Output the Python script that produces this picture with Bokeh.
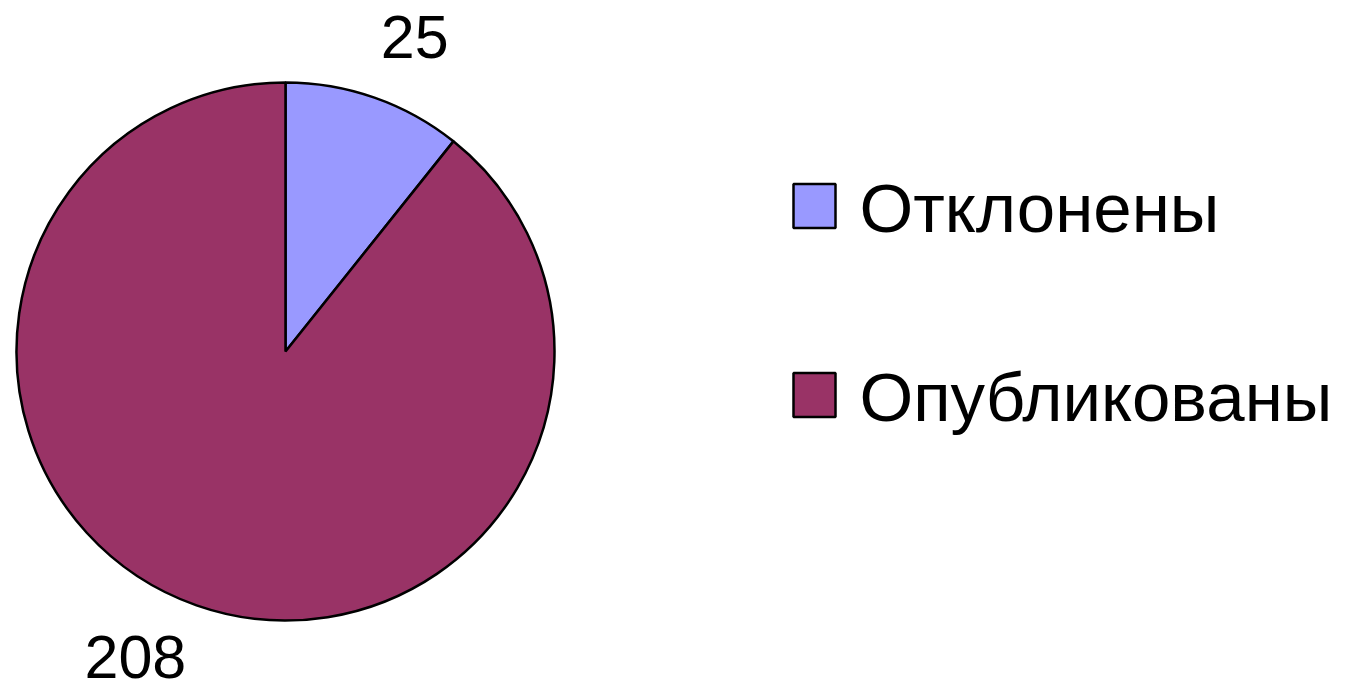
import math
from bokeh.plotting import figure
from bokeh.models import Range1d, ColumnDataSource
from bokeh.core.properties import value
from bokeh.embed import file_html
from bokeh.resources import INLINE

categories = ["Отклонены", "Опубликованы"]
counts = [25, 208]
colors = ["#9999FF", "#993366"]

W, H = 1345, 694
p = figure(width=W, height=H, output_backend="svg", toolbar_location=None,
           x_range=Range1d(0, W), y_range=Range1d(0, H), min_border=0)
p.axis.visible = False
p.grid.visible = False
p.outline_line_color = None
p.background_fill_color = "white"
p.border_fill_color = "white"

cx, cy, R = 285, H - 351, 269
total = sum(counts)
starts, ends, mids = [], [], []
acc = 0.0
for c in counts:
    a0 = acc / total * 2 * math.pi
    acc += c
    a1 = acc / total * 2 * math.pi
    starts.append(math.pi / 2 - a0)
    ends.append(math.pi / 2 - a1)
    mids.append((a0 + a1) / 2)

src = ColumnDataSource(dict(x=[cx] * len(counts), y=[cy] * len(counts),
                            start=starts, end=ends, color=colors))
p.wedge(x="x", y="y", radius=R, start_angle="start", end_angle="end",
        direction="clock", fill_color="color", line_color="black",
        line_width=2.5, source=src)

FONT = value("Liberation Sans")
rl = 300
for c, m in zip(counts, mids):
    lx = cx + rl * math.sin(m)
    ly = cy + rl * math.cos(m)
    right = math.sin(m) >= 0
    upper = math.cos(m) >= 0
    p.text(x=[lx], y=[ly], text=[str(c)], text_font=FONT,
           text_font_size="61px", text_color="black",
           text_align="left" if right else "right",
           text_baseline="bottom" if upper else "top",
           x_offset=-4 if right else 0,
           y_offset=-10 if upper else 1)

# legend
lg_x, lg_y0, lg_step = 814, H - 205.5, 189
for i, (name, col) in enumerate(zip(categories, colors)):
    yy = lg_y0 - i * lg_step
    p.rect(x=[lg_x], y=[yy], width=42, height=44, fill_color=col,
           line_color="black", line_width=2.5)
    p.text(x=[lg_x + 45], y=[yy - 2], text=[name], text_font=FONT,
           text_font_size="69px", text_color="black",
           text_align="left", text_baseline="middle")

open("out.html", "w").write(file_html(p, INLINE))
